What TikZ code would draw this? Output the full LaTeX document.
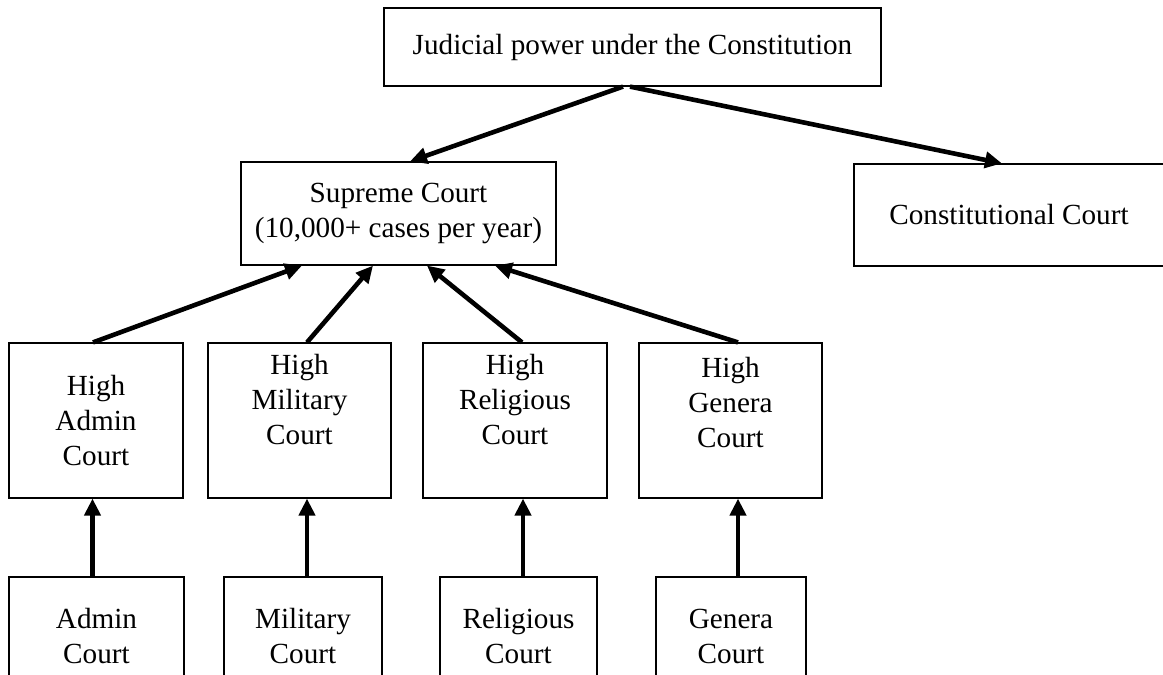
\documentclass[tikz,border=0pt]{standalone}
\usepackage{fontspec}
\setmainfont{Liberation Serif}
\usetikzlibrary{calc,arrows.meta}

\tikzset{
  courtbox/.style={draw, line width=0.6pt, inner sep=0pt, align=center,
    font=\fontsize{14.6}{17.5}\selectfont},
  uparrow/.style={line width=2.3pt, -{Triangle[length=8.5pt,width=8pt]}}
}

\begin{document}
\begin{tikzpicture}[x=0.5pt,y=-0.5pt]
  \useasboundingbox (0,0) rectangle (1163,675);
  \clip (0,0) rectangle (1163,675);

  % top level
  \node[courtbox, minimum width=248.5pt, minimum height=39pt] (judicial) at (632.5,47)
    {Judicial power under the Constitution};
  \node[courtbox, minimum width=157.5pt, minimum height=51.5pt] (supreme) at (398.5,213.5)
    {Supreme Court\\(10,000+ cases per year)};
  \node[courtbox, minimum width=155pt, minimum height=51pt] (constitutional) at (1009,215)
    {Constitutional Court};

  % high courts
  \node[courtbox, minimum width=87pt, minimum height=77.5pt] (highadmin) at (96,420.5)
    {High\\Admin\\Court};
  \node[courtbox, minimum width=91.5pt, minimum height=77.5pt] (highmilitary) at (299.5,420.5)
    {High\\Military\\Court\\[4pt]};
  \node[courtbox, minimum width=92pt, minimum height=77.5pt] (highreligious) at (515,420.5)
    {High\\Religious\\Court\\[4pt]};
  \node[courtbox, minimum width=91.5pt, minimum height=77.5pt] (highgenera) at (730.5,420.5)
    {High\\Genera\\Court\\[1pt]};

  % first instance courts
  \node[courtbox, minimum width=87.5pt, minimum height=59pt] (admin) at (96.5,636)
    {Admin\\Court};
  \node[courtbox, minimum width=79pt, minimum height=59pt] (military) at (303,636)
    {Military\\Court};
  \node[courtbox, minimum width=78.5pt, minimum height=59pt] (religious) at (518.5,636)
    {Religious\\Court};
  \node[courtbox, minimum width=75pt, minimum height=59pt] (genera) at (731,636)
    {Genera\\Court};

  \draw[uparrow] ($(judicial.south)+(-9.5,0)$) -- ($(supreme.north)+(11.5,0)$);
  \draw[uparrow] ($(judicial.south)+(-2.5,0)$) -- ($(constitutional.north)+(-7,0)$);

  \foreach \high/\from/\to in {highadmin/-3/-96.5, highmilitary/7.5/-25.5,
                               highreligious/7/28.5, highgenera/7.5/96.5}
    \draw[uparrow] ($(\high.north)+(\from,0)$) -- ($(supreme.south)+(\to,0)$);

  \foreach \low/\high/\from/\to in {admin/highadmin/-4/-3.5, military/highmilitary/4/7.5,
                                    religious/highreligious/4.5/8, genera/highgenera/7/7.5}
    \draw[uparrow] ($(\low.north)+(\from,0)$) -- ($(\high.south)+(\to,0)$);
\end{tikzpicture}
\end{document}
